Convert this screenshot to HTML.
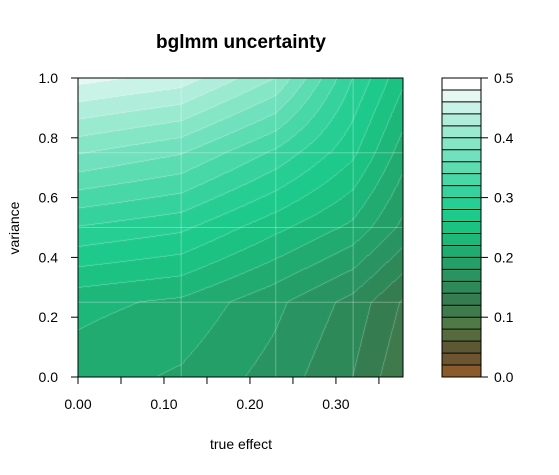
<!DOCTYPE html>
<html><head><meta charset="utf-8"><style>
body{margin:0;background:#fff;font-family:"Liberation Sans",sans-serif}
#wrap{position:relative;width:559px;height:475px}
canvas{position:absolute;left:0;top:0}
svg{position:absolute;left:0;top:0}
</style></head><body>
<div id="wrap">
<canvas id="cv" width="559" height="475"></canvas>
<svg id="sv" width="559" height="475"></svg>
</div>
<script>
const xGrid=[0,0.12,0.23,0.32,0.378];
const yGrid=[0,0.25,0.5,0.75,1];
// z[j][i] : j = y index, i = x index
const zRow0=[0.21,0.197,0.172,0.14,0.104];
const zRow1=[0.226,0.216,0.185,0.153,0.118];
const zRow2=[0.299,0.285,0.246,0.215,0.175];
const zRow3=[0.382,0.362,0.316,0.265,0.21];
const zRow4=[0.468,0.452,0.40,0.30,0.245];
const zRows=[zRow0,zRow1,zRow2,zRow3,zRow4];
const xTicks=[0,0.05,0.1,0.15,0.2,0.25,0.3,0.35];
const xTickLabels=["0.00","","0.10","","0.20","","0.30",""];
const yTicks=[0,0.2,0.4,0.6,0.8,1.0];
const yTickLabels=["0.0","0.2","0.4","0.6","0.8","1.0"];
const levelTicks=[0,0.1,0.2,0.3,0.4,0.5];
const levelTickLabels=["0.0","0.1","0.2","0.3","0.4","0.5"];
const nLevels=25, zMin=0, zMax=0.5;
const palette=["#8b5a2b","#6c5530","#5d5834","#566a3e","#4f7a45","#3f7a4c","#357d51","#2e8959","#299461","#249f68","#21ab70","#1db77a","#1bc282","#1dca8b","#27ce94","#36d29d","#48d7a7","#5cdcb1","#70e1bc","#85e6c6","#9aead0","#b0eedb","#c9f3e6","#e5f8f1","#ffffff"];

const L=78,R=403,T=78,B=377;
const xs=v=>L+(v-0)/(0.378-0)*(R-L);
const ys=v=>B-(v-0)/(1-0)*(B-T);
const xinv=p=>(p-L)/(R-L)*0.378;
const yinv=p=>(B-p)/(B-T);
const cbL=442,cbR=481;
const cs=v=>B-(v-zMin)/(zMax-zMin)*(B-T);

function interp(x,y){
  let i=0;while(i<xGrid.length-2&&x>xGrid[i+1])i++;
  let j=0;while(j<yGrid.length-2&&y>yGrid[j+1])j++;
  const tx=(x-xGrid[i])/(xGrid[i+1]-xGrid[i]),ty=(y-yGrid[j])/(yGrid[j+1]-yGrid[j]);
  const a=zRows[j][i],b=zRows[j][i+1],c=zRows[j+1][i],d=zRows[j+1][i+1];
  return a*(1-tx)*(1-ty)+b*tx*(1-ty)+c*(1-tx)*ty+d*tx*ty;
}
function hex(h){return [parseInt(h.slice(1,3),16),parseInt(h.slice(3,5),16),parseInt(h.slice(5,7),16)];}
const cv=document.getElementById('cv'),ctx=cv.getContext('2d');
const W=R-L,H=B-T;
const band=[];
for(let py=0;py<H;py++){band.push([]);for(let px=0;px<W;px++){
  const z=interp(xinv(L+px+0.5),yinv(T+py+0.5));
  let k=Math.floor((z-zMin)/(zMax-zMin)*nLevels);k=Math.max(0,Math.min(nLevels-1,k));band[py].push(k);}}
const img=ctx.createImageData(W,H);
for(let py=0;py<H;py++)for(let px=0;px<W;px++){
  const k=band[py][px];let c=hex(palette[k]);
  const edge=(px+1<W&&band[py][px+1]!==k)||(py+1<H&&band[py+1][px]!==k);
  if(edge)c=c.map(v=>v+(255-v)*0.25);
  const o=(py*W+px)*4;img.data[o]=c[0];img.data[o+1]=c[1];img.data[o+2]=c[2];img.data[o+3]=255;}
ctx.putImageData(img,L,T);
// colorbar
for(let k=0;k<nLevels;k++){
  const lo=zMin+k*(zMax-zMin)/nLevels,hi=lo+(zMax-zMin)/nLevels;
  ctx.fillStyle=palette[k];ctx.fillRect(cbL,cs(hi),cbR-cbL,cs(lo)-cs(hi));
}
const NS='http://www.w3.org/2000/svg',sv=document.getElementById('sv');
function el(t,a,txt){const e=document.createElementNS(NS,t);for(const k in a)e.setAttribute(k,a[k]);if(txt!==undefined)e.textContent=txt;sv.appendChild(e);return e;}
for(let i=1;i<xGrid.length-1;i++){const g=el('line',{x1:xs(xGrid[i]),x2:xs(xGrid[i]),y1:T,y2:B,stroke:'rgba(255,255,255,0.3)','stroke-width':1});
}
for(let j=1;j<yGrid.length-1;j++){const g=el('line',{x1:L,x2:R,y1:ys(yGrid[j]),y2:ys(yGrid[j]),stroke:'rgba(255,255,255,0.3)','stroke-width':1});
}
for(let k=1;k<nLevels;k++){const y=cs(zMin+k*(zMax-zMin)/nLevels);const g=el('line',{x1:cbL,x2:cbR,y1:y,y2:y,stroke:'#000','stroke-width':1});
}
let f=el('rect',{x:L,y:T,width:R-L,height:B-T,fill:'none',stroke:'#000','stroke-width':1});

f=el('rect',{x:cbL,y:T,width:cbR-cbL,height:B-T,fill:'none',stroke:'#000','stroke-width':1});

xTicks.forEach((v,i)=>{const x=xs(v);const t=el('line',{x1:x,x2:x,y1:B,y2:B+7,stroke:'#000'});

if(xTickLabels[i]){const l=el('text',{x:x,y:B+32,'text-anchor':'middle','font-size':14},xTickLabels[i]);
}});
yTicks.forEach((v,i)=>{const y=ys(v);const t=el('line',{x1:L-7,x2:L,y1:y,y2:y,stroke:'#000'});

const l=el('text',{x:L-20,y:y+5,'text-anchor':'end','font-size':14},yTickLabels[i]);
});
levelTicks.forEach((v,i)=>{const y=cs(v);const t=el('line',{x1:cbR,x2:cbR+7,y1:y,y2:y,stroke:'#000'});

const l=el('text',{x:cbR+13,y:y+5,'font-size':14},levelTickLabels[i]);
});
let t=el('text',{x:241,y:48,'text-anchor':'middle','font-size':19,'font-weight':'bold'},'bglmm uncertainty');

t=el('text',{x:241,y:449,'text-anchor':'middle','font-size':14},'true effect');

t=el('text',{x:19,y:228,'text-anchor':'middle','font-size':14,transform:'rotate(-90 19 228)'},'variance');

</script>
</body></html>
